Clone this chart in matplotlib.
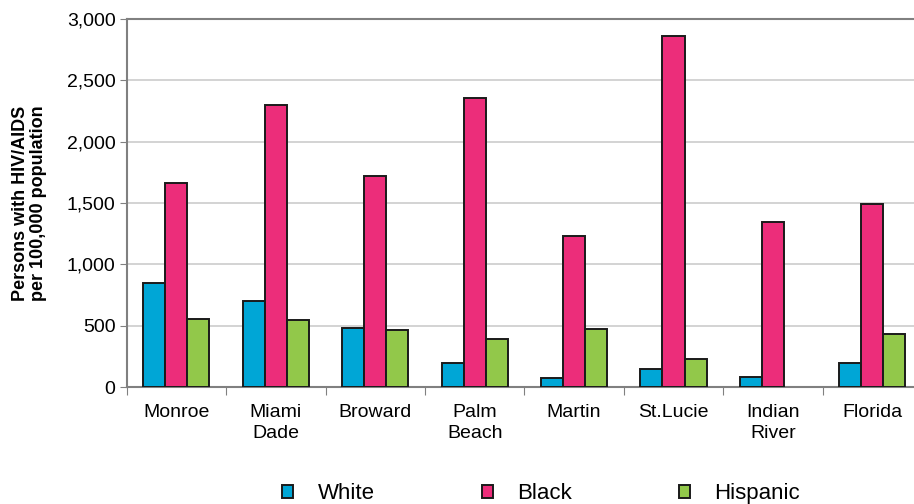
import matplotlib.pyplot as plt
import numpy as np

# counties (x categories) and rates per 100,000 population
counties = ["Monroe", "Miami\nDade", "Broward", "Palm\nBeach", "Martin",
            "St.Lucie", "Indian\nRiver", "Florida"]
white = [845, 700, 480, 200, 75, 145, 82, 200]
black = [1665, 2295, 1720, 2360, 1232, 2863, 1347, 1491]
hispanic = [558, 550, 463, 395, 470, 228, 0, 433]
series_names = ["White", "Black", "Hispanic"]
colors = ["#00A6D6", "#EC2D7A", "#92C84A"]

plt.rcParams['font.family'] = ['Liberation Sans', 'DejaVu Sans']

fig = plt.figure(figsize=(9.14, 5.04), dpi=100)
ax = fig.add_axes([0.1386, 0.232, 0.8702, 0.7303])

x = np.arange(len(counties))
w = 0.222
for i, (vals, name, c) in enumerate(zip([white, black, hispanic], series_names, colors)):
    # no outline for empty bars (Indian River has no Hispanic bar)
    lw = [1.4 if v > 0 else 0 for v in vals]
    ax.bar(x + (i - 1) * w, vals, width=w, color=c, edgecolor="#1a1a1a",
           linewidth=lw, label=name, zorder=3)

ax.set_ylim(0, 3000)
ax.set_xlim(-0.5, len(counties) - 0.5)
ax.set_yticks(np.arange(0, 3001, 500))
ax.set_yticklabels([f"{v:,}" for v in range(0, 3001, 500)], fontsize=14)
ax.yaxis.grid(True, color="#c8c8c8", linewidth=1.1, zorder=0)

# category boundaries as ticks, labels at the centres
ax.set_xticks(np.arange(-0.5, len(counties), 1.0))
ax.set_xticklabels([])
ax.set_xticks(x, minor=True)
ax.set_xticklabels(counties, minor=True, fontsize=14, linespacing=1.35)
ax.tick_params(axis="x", which="major", length=6, color="#808080")
ax.tick_params(axis="x", which="minor", length=0, pad=12)
ax.tick_params(axis="y", length=5, color="#808080", pad=3)

for s in ["left", "bottom", "top"]:
    ax.spines[s].set_color("#808080")
    ax.spines[s].set_linewidth(1.5)
ax.spines["right"].set_visible(False)

ax.set_ylabel("Persons with HIV/AIDS\nper 100,000 population", fontsize=13,
              fontweight="bold", labelpad=14, linespacing=1.1)

leg = fig.legend(loc="lower center", bbox_to_anchor=(0.592, -0.04), ncol=3,
                 frameon=False, fontsize=16, handlelength=0.5, handleheight=0.5,
                 columnspacing=4.8, handletextpad=1.1)
for h in leg.legend_handles:
    h.set_linewidth(1.4)

fig.savefig("out.png", dpi=100)
